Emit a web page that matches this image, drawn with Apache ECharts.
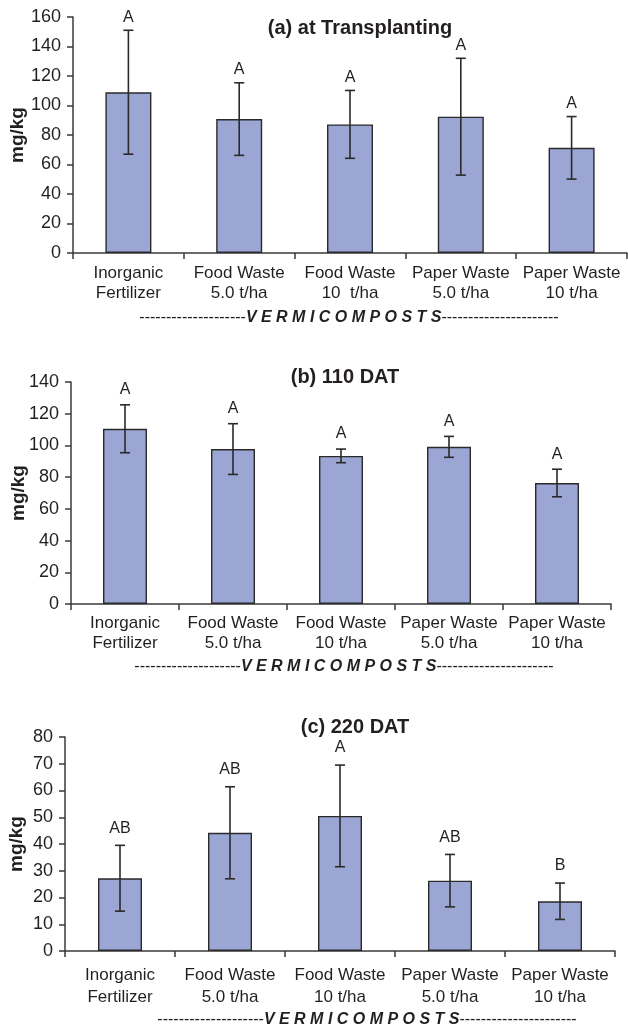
<!DOCTYPE html>
<html>
<head>
<meta charset="utf-8">
<script src="https://cdn.jsdelivr.net/npm/echarts@6/dist/echarts.min.js"></script>
<style>
html,body{margin:0;padding:0;background:#fff;}
#chart{width:628px;height:1026px;}
</style>
</head>
<body>
<div id="chart"></div>
<script>
// ---- data ----
const categoriesA = ['Inorganic\nFertilizer', 'Food Waste\n5.0 t/ha', 'Food Waste\n10  t/ha', 'Paper Waste\n5.0 t/ha', 'Paper Waste\n10 t/ha'];
const categoriesB = ['Inorganic\nFertilizer', 'Food Waste\n5.0 t/ha', 'Food Waste\n10 t/ha', 'Paper Waste\n5.0 t/ha', 'Paper Waste\n10 t/ha'];
const categoriesC = ['Inorganic\nFertilizer', 'Food Waste\n5.0 t/ha', 'Food Waste\n10 t/ha', 'Paper Waste\n5.0 t/ha', 'Paper Waste\n10 t/ha'];

const meansA = [109, 90.8, 87.2, 92.4, 71.3];
const errA   = [42, 24.6, 23, 39.6, 21.2];
const lettersA = ['A', 'A', 'A', 'A', 'A'];

const meansB = [110.5, 97.7, 93.4, 99.1, 76.3];
const errB   = [15.1, 16, 4.3, 6.6, 8.7];
const lettersB = ['A', 'A', 'A', 'A', 'A'];

const meansC = [27.2, 44.2, 50.5, 26.3, 18.6];
const errC   = [12.3, 17.2, 19, 9.8, 6.8];
const lettersC = ['AB', 'AB', 'A', 'AB', 'B'];

const titles = ['(a) at Transplanting', '(b) 110 DAT', '(c) 220 DAT'];
const yMax = [160, 140, 80];
const yInterval = [20, 20, 10];
const yName = 'mg/kg';
const groupLabel = 'V E R M I C O M P O S T S';

// ---- layout / style ----
const FONT = '"Liberation Sans", Arial, Helvetica, sans-serif';
const TXT = '#231f20';
const AXIS = '#3a3a3a';
const BAR = '#9ba6d4';

const panels = [
  {cats: categoriesA, means: meansA, err: errA, letters: lettersA,
   grid: {left: 73, top: 17, width: 554, height: 236}, nameGap: 46, labMargin: 10, lineH: 20, barW: 46, letterGap: 13,
   title: {x: 355, y: 13}, group: {x: 349, y: 318}},
  {cats: categoriesB, means: meansB, err: errB, letters: lettersB,
   grid: {left: 71, top: 382, width: 540, height: 222}, nameGap: 43, labMargin: 9, lineH: 20, barW: 44, letterGap: 15,
   title: {x: 340, y: 362}, group: {x: 344, y: 667}},
  {cats: categoriesC, means: meansC, err: errC, letters: lettersC,
   grid: {left: 65, top: 737, width: 550, height: 214}, nameGap: 39, labMargin: 13, lineH: 22, barW: 44, letterGap: 17,
   title: {x: 350, y: 712}, group: {x: 367, y: 1020}}
];

const option = {
  backgroundColor: '#fff',
  animation: false,
  title: [], grid: [], xAxis: [], yAxis: [], series: [], graphic: []
};

panels.forEach((p, i) => {
  option.title.push({
    text: titles[i], left: p.title.x, top: p.title.y, textAlign: 'center',
    textStyle: {fontFamily: FONT, fontSize: 20, fontWeight: 'bold', color: TXT}
  });
  option.grid.push(Object.assign({containLabel: false, outerBoundsMode: 'none'}, p.grid));
  option.xAxis.push({
    type: 'category', gridIndex: i, data: p.cats,
    axisLine: {show: true, lineStyle: {color: AXIS, width: 1.5}},
    axisTick: {show: true, interval: 0, alignWithLabel: false, length: 6, lineStyle: {color: AXIS, width: 1.5}},
    axisLabel: {interval: 0, margin: p.labMargin, fontFamily: FONT, fontSize: 17, lineHeight: p.lineH, color: TXT},
    splitLine: {show: false}
  });
  option.yAxis.push({
    type: 'value', gridIndex: i, min: 0, max: yMax[i], interval: yInterval[i],
    name: yName, nameLocation: 'middle', nameGap: p.nameGap, nameRotate: 90, nameMoveOverlap: false,
    nameTextStyle: {fontFamily: FONT, fontSize: 19, fontWeight: 'bold', color: TXT},
    axisLine: {show: true, lineStyle: {color: AXIS, width: 1.5}},
    axisTick: {show: true, length: 6, lineStyle: {color: AXIS, width: 1.5}},
    axisLabel: {margin: 12, fontFamily: FONT, fontSize: 18, color: TXT},
    splitLine: {show: false}
  });
  option.series.push({
    type: 'bar', xAxisIndex: i, yAxisIndex: i, data: p.means, barWidth: p.barW,
    itemStyle: {color: BAR, borderColor: '#2a2a2a', borderWidth: 1.4},
    z: 2
  });
  const errData = p.means.map((m, k) => [k, m, p.err[k]]);
  option.series.push({
    type: 'custom', xAxisIndex: i, yAxisIndex: i, data: errData, z: 5,
    renderItem: (params, api) => {
      const x = api.value(0), m = api.value(1), e = api.value(2);
      const top = api.coord([x, m + e]);
      const bot = api.coord([x, m - e]);
      const cap = 5;
      const ls = {stroke: '#2a2a2a', lineWidth: 1.6};
      return {
        type: 'group',
        children: [
          {type: 'line', shape: {x1: top[0], y1: top[1], x2: bot[0], y2: bot[1]}, style: ls},
          {type: 'line', shape: {x1: top[0] - cap, y1: top[1], x2: top[0] + cap, y2: top[1]}, style: ls},
          {type: 'line', shape: {x1: bot[0] - cap, y1: bot[1], x2: bot[0] + cap, y2: bot[1]}, style: ls},
          {type: 'text', x: top[0], y: top[1] - p.letterGap,
           style: {text: p.letters[params.dataIndex], align: 'center', verticalAlign: 'middle',
                   font: '16px ' + FONT, fill: TXT}}
        ]
      };
    }
  });
  option.graphic.push({
    type: 'text', x: p.group.x, y: p.group.y,
    style: {
      text: '{d|--------------------}{v|' + groupLabel + '}{d|----------------------}',
      align: 'center', verticalAlign: 'middle',
      rich: {
        d: {fontFamily: FONT, fontSize: 16, fill: TXT, color: TXT},
        v: {fontFamily: FONT, fontSize: 16, fontWeight: 'bold', fontStyle: 'italic', fill: TXT, color: TXT}
      }
    }
  });
});

const chart = echarts.init(document.getElementById('chart'), null, {renderer: 'canvas'});
chart.setOption(option);
</script>
</body>
</html>
